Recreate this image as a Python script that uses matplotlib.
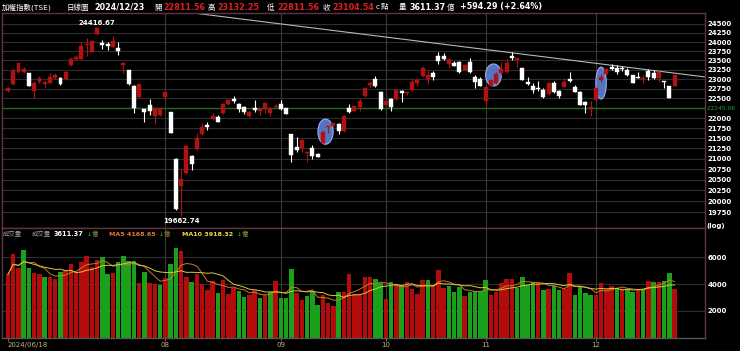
import numpy as np
import pandas as pd
import matplotlib
matplotlib.use("Agg")
import matplotlib.pyplot as plt
from matplotlib.patches import Ellipse
from matplotlib.ticker import FixedLocator, NullLocator, FixedFormatter

plt.rcParams['font.family'] = ['DejaVu Sans', 'Noto Sans CJK TC']

# ---- data (TAIEX daily, 2024/06/18 - 2024/12/23) ----
opens = [22692, 22866, 23200, 23183, 23157, 22692, 22927, 22874, 22910, 23024,
         23032, 22998, 23367, 23529, 23529, 23909, 23736, 24210, 23982, 23945,
         23872, 23845, 23376, 23244, 22830, 22530, 22221, 22331, 22055, 22080,
         22530, 22154, 20999, 20357, 20652, 21065, 21227, 21602, 21826, 21968,
         22018, 22120, 22348, 22484, 22348, 22272, 22040, 22254, 22187, 22246,
         22120, 22272, 22356, 22246, 21595, 21275, 21251, 21129, 21267, 21105,
         21374, 21768, 21801, 21843, 21684, 22263, 22187, 22272, 22562, 22840,
         22998, 22675, 22331, 22484, 22484, 22700, 22632, 22718, 22910, 23094,
         22998, 23157, 23616, 23616, 23393, 23437, 23466, 23244, 23466, 23050,
         23006, 22441, 22830, 22893, 23157, 23183, 23616, 23511, 23288, 22919,
         22830, 22778, 22718, 22614, 22893, 22692, 22805, 23006, 22805, 22675,
         22415, 22221, 22459, 22979, 23129, 23332, 23305, 23305, 23244, 23112,
         23068, 22998, 23226, 23174, 23024, 22961, 22822, 22811.56]
highs = [22805, 23290, 23437, 23332, 23165, 22936, 23086, 22953, 23157, 23174,
         23050, 23218, 23582, 23643, 24010, 24101, 24056, 24416.67, 24056, 24001,
         24175, 23993, 23466, 23250, 22835, 22880, 22225, 22484, 22289, 22270,
         22675, 22160, 21005, 20754, 21332, 21090, 21620, 21884, 21909, 22118,
         22080, 22390, 22484, 22562, 22373, 22310, 22180, 22459, 22221, 22390,
         22270, 22356, 22459, 22254, 21600, 21520, 21470, 21169, 21332, 21145,
         21701, 21801, 21884, 21868, 22080, 22356, 22314, 22476, 22770, 22961,
         23094, 22692, 22441, 22500, 22744, 22718, 22670, 23024, 23024, 23358,
         23244, 23226, 23719, 23690, 23529, 23493, 23493, 23400, 23555, 23112,
         23068, 22805, 22900, 23190, 23466, 23529, 23719, 23555, 23288, 23050,
         22910, 22953, 22761, 22927, 22953, 22718, 23024, 23200, 22848, 22680,
         22441, 22441, 22770, 23139, 23288, 23393, 23367, 23349, 23305, 23120,
         23183, 23112, 23262, 23244, 23218, 22961, 22830, 23132.25]
lows = [22675, 22848, 23174, 23157, 22810, 22518, 22893, 22778, 22893, 23006,
        22840, 22988, 23349, 23511, 23511, 23627, 23719, 24180, 23800, 23782,
        23854, 23655, 23157, 22860, 22137, 22520, 21900, 22080, 21858, 22040,
        22459, 21630, 19803, 19662.74, 20636, 20730, 21210, 21580, 21701, 21950,
        21895, 22100, 22330, 22390, 22160, 22105, 22030, 22162, 22080, 22120,
        22040, 22246, 22204, 22097, 20929, 21169, 21154, 20929, 20985, 21030,
        21355, 21636, 21768, 21602, 21660, 22137, 22180, 22187, 22545, 22761,
        22805, 22215, 22314, 22187, 22459, 22420, 22580, 22700, 22830, 23068,
        22874, 22979, 23400, 23511, 23288, 23358, 23157, 23244, 23157, 22761,
        22822, 22272, 22822, 22866, 23112, 23157, 23511, 23332, 22979, 22850,
        22632, 22692, 22502, 22597, 22632, 22502, 22787, 22936, 22658, 22331,
        22137, 22055, 22459, 22936, 23112, 23244, 23139, 23226, 23086, 22893,
        23024, 22910, 22979, 23006, 22936, 22778, 22510, 22811.56]
closes = [22770, 23226, 23420, 23270, 22822, 22910, 23032, 22927, 23050, 23104,
          22883, 23191, 23537, 23582, 23890, 23945, 24037, 24390, 23927, 23900,
          24028, 23755, 23437, 22866, 22262, 22874, 22154, 22187, 22247, 22237,
          22666, 21635, 19830, 20508, 21307, 20874, 21496, 21768, 21784, 22050,
          21909, 22356, 22459, 22441, 22237, 22154, 22160, 22204, 22221, 22373,
          22246, 22314, 22221, 22105, 21089, 21210, 21454, 21169, 21065, 21048,
          21660, 21801, 21868, 21684, 22055, 22162, 22306, 22441, 22761, 22893,
          22830, 22221, 22424, 22272, 22718, 22632, 22666, 22936, 22979, 23288,
          23112, 23068, 23493, 23537, 23529, 23358, 23183, 23384, 23183, 22936,
          22830, 22805, 22979, 23147, 23262, 23437, 23555, 23555, 22979, 22866,
          22718, 22736, 22545, 22893, 22675, 22562, 22936, 22953, 22675, 22331,
          22331, 22272, 22761, 23050, 23262, 23279, 23183, 23262, 23112, 22893,
          23024, 23041, 23050, 23024, 23200, 22936, 22510.25, 23104.54]
volumes = [4727, 6223, 5221, 6545, 5221, 4825, 4727, 4525, 4525, 4376,
           4924, 5023, 5498, 4924, 5672, 6121, 5273, 5772, 6021, 4775,
           4825, 5648, 6071, 5722, 5722, 4077, 4924, 4102, 4002, 3927,
           4427, 5473, 6720, 6500, 4550, 4176, 4727, 3977, 3553, 4226,
           3353, 4326, 3278, 3677, 3502, 3029, 3203, 3528, 2955, 3179,
           3428, 4251, 2980, 2980, 5124, 3303, 2781, 3128, 3428, 2431,
           3179, 2556, 2381, 3403, 3378, 4775, 3229, 3254, 4500, 4500,
           4376, 4102, 2880, 4151, 3927, 3902, 4176, 3628, 3229, 4301,
           4301, 3927, 5023, 3677, 3877, 3428, 3802, 3104, 3378, 3502,
           3453, 4301, 3179, 3378, 4102, 4351, 4351, 3677, 4525, 3927,
           4176, 4176, 3553, 3628, 3877, 3553, 3628, 4825, 3179, 3827,
           3353, 3179, 3179, 4052, 3628, 3852, 3703, 3653, 3553, 3403,
           3553, 3603, 4226, 4151, 4126, 4226, 4800, 3611.37]
# R = volume bar red (up day), G = green (down day)
vol_dir = ("RRRGGRRGRR" "GRRRRRRRGG" "RGGGGRGRRG" "RGGRRGRRRR" "GRRRGGRRGR"
           "GRGGGRRGGG" "RRRGRRRRRR" "GGRGRGRRRR" "GRRRGGGRGG" "GGRRRRRGGG"
           "GRGRGGRRGG" "GGRRRRGRGG" "RGRGRGGR")
ma5_last = 4168.65
ma10_last = 3918.32

month_idx = [0, 30, 52, 72, 91, 112]
month_labels = ["2024/06/18", "08", "09", "10", "11", "12"]
price_ticks = list(range(19750, 24501, 250))
vol_ticks = [2000, 4000, 6000]
ref_level = 22245.06
hi_idx, hi_val = 17, 24416.67
lo_idx, lo_val = 33, 19662.74

W, H = 740, 351
RED = '#b01212'
VRED = '#b40c0c'
VGREEN = '#1aa01a'
FRAME = '#5c3442'
GRID = '#2e2e2e'

fig = plt.figure(figsize=(W / 100, H / 100), dpi=100, facecolor='black')
ax = fig.add_axes([2 / W, 1 - 228 / H, 703 / W, 215 / H], facecolor='black')
axv = fig.add_axes([2 / W, 1 - 337.5 / H, 703 / W, 109.5 / H], facecolor='black',
                   sharex=ax)

x = np.arange(len(closes))
o = np.array(opens)
c = np.array(closes)
up = c >= o
col = np.where(up, RED, 'white')
body_lo = np.minimum(o, c)
body_h = np.maximum(np.abs(c - o), body_lo * 0.0008)

# ---- price panel ----
ax.set_yscale('log')
ax.set_ylim(19399, 24810)
ax.set_xlim(-1.14, 132.8)
for p in price_ticks:
    ax.axhline(p, color=GRID, lw=0.8, zorder=0)
for m in month_idx[1:]:
    ax.axvline(m, color='#3a3a3a', lw=0.8, zorder=0)
ax.axhline(ref_level, color='#1f6a1f', lw=1.0, zorder=1)
ax.axline((46, 24612), (130, 23108), color='#b8b8b8', lw=0.8, zorder=1)

for xc, lo, hi, w in [(60.5, 21350, 21975, 2.9), (92.5, 22822, 23405, 3.0),
                      (113, 22484, 23320, 2.0)]:
    ax.add_patch(Ellipse((xc, (lo + hi) / 2), w, hi - lo, facecolor='#5574c4',
                         edgecolor='#9ab0e8', lw=0.8, zorder=1.5))

ax.vlines(x, lows, highs, colors=col, lw=0.8, zorder=2)
ax.bar(x, body_h, bottom=body_lo, width=0.75, color=col, edgecolor=col,
       lw=0.3, zorder=3)

ax.annotate(f"{hi_val:.2f}", (hi_idx, hi_val), xytext=(0, 1),
            textcoords='offset points', ha='center', va='bottom',
            color='white', fontsize=5, fontweight='bold')
ax.annotate(f"{lo_val:.2f}", (lo_idx, lo_val), xytext=(0, -1),
            textcoords='offset points', ha='center', va='top',
            color='white', fontsize=5, fontweight='bold')

# the reference level label takes the place of the 22250 tick label
tick_text = ["" if abs(p - ref_level) < 125 else str(p) for p in price_ticks]
ax.yaxis.tick_right()
ax.yaxis.set_major_locator(FixedLocator(price_ticks))
ax.yaxis.set_minor_locator(NullLocator())
ax.yaxis.set_major_formatter(FixedFormatter(tick_text))
ax.tick_params(axis='y', which='both', length=0, pad=1.5, labelsize=5,
               labelcolor='white')
for t in ax.get_yticklabels():
    t.set_fontweight('bold')
ax.tick_params(axis='x', bottom=False, labelbottom=False)
for s in ax.spines.values():
    s.set_color(FRAME)
    s.set_linewidth(1.0)
ax.text(1.0, ref_level, f" {ref_level:.2f}", transform=ax.get_yaxis_transform(),
        color='#2aa02a', fontsize=4.2, va='center', ha='left')
fig.text(706 / W, 1 - 226 / H, "(log)", color='white', fontsize=5,
         fontweight='bold', va='center', ha='left')

# ---- volume panel ----
vcol = [VRED if d == 'R' else VGREEN for d in vol_dir]
vol = pd.Series(volumes)
ma5 = vol.rolling(5, min_periods=1).mean()
ma10 = vol.rolling(10, min_periods=1).mean()
axv.set_ylim(0, 8190)
for v in vol_ticks:
    axv.axhline(v, color=GRID, lw=0.8, zorder=0)
for m in month_idx[1:]:
    axv.axvline(m, color='#3a3a3a', lw=0.8, zorder=0)
axv.bar(x, volumes, width=0.86, color=vcol, lw=0, zorder=2)
axv.plot(x, ma5, color='#c87a2a', lw=0.7, zorder=3)
axv.plot(x, ma10, color='#d8c83a', lw=0.7, zorder=3)

axv.yaxis.tick_right()
axv.set_yticks(vol_ticks)
axv.set_yticklabels([str(v) for v in vol_ticks])
axv.tick_params(axis='y', length=0, pad=2, labelsize=5, labelcolor='white')
for t in axv.get_yticklabels():
    t.set_fontweight('bold')
axv.set_xticks(month_idx)
axv.set_xticklabels(month_labels)
axv.tick_params(axis='x', length=2, width=0.6, color='#777777', pad=1,
                labelsize=5, labelcolor='#c8b27a')
axv.get_xticklabels()[0].set_ha('left')
for s in axv.spines.values():
    s.set_color(FRAME)
    s.set_linewidth(1.0)
axv.spines['bottom'].set_color('#555555')


def ftext(xp, yp, s, **kw):
    kw.setdefault('fontsize', 5.6)
    kw.setdefault('color', 'white')
    fig.text(xp / W, 1 - yp / H, s, va='center', ha='left', **kw)


# header line
ftext(2, 7, "加權指數(TSE)", fontsize=5.4)
ftext(67, 7, "日線圖", fontsize=5.4)
ftext(94, 7, "2024/12/23", fontweight='bold', fontsize=5.8)
hdr = [(154, "開", 163, "22811.56"), (208, "高", 217, "23132.25"),
       (267, "低", 277, "22811.56"), (323, "收", 332, "23104.54")]
for lx, lab, vx, val in hdr:
    ftext(lx, 7, lab, fontsize=5.4)
    ftext(vx, 7, val, color='#e02020', fontweight='bold', fontsize=5.8)
ftext(376, 7, "c", fontsize=5)
ftext(381, 7, "點", fontsize=5.4)
ftext(399, 7, "量", fontsize=5.4)
ftext(409, 7, "3611.37", fontweight='bold', fontsize=5.8)
ftext(447, 7, "億", fontsize=5.4)
ftext(460, 7, "+594.29 (+2.64%)", fontweight='bold', fontsize=5.8)

# volume legend
ftext(3, 234, "成交量", color='#9a9a9a', fontsize=4.6)
ftext(32, 234, "成交量", color='#9a9a9a', fontsize=4.6)
ftext(54, 234, f"{volumes[-1]:.2f}", fontweight='bold', fontsize=4.7)
ftext(87, 234, "↓", color='#22c022', fontsize=4.6)
ftext(92, 234, "億", color='#8a9a5a', fontsize=4.5)
ftext(109, 234, f"MA5 {ma5_last:.2f}", color='#e0782e', fontweight='bold',
      fontsize=4.6)
ftext(159, 234, "↓", color='#22c022', fontsize=4.6)
ftext(164, 234, "億", color='#b07a3a', fontsize=4.5)
ftext(182, 234, f"MA10 {ma10_last:.2f}", color='#e8e040', fontweight='bold',
      fontsize=4.6)
ftext(237, 234, "↓", color='#22c022', fontsize=4.6)
ftext(242, 234, "億", color='#a0a040', fontsize=4.5)

fig.savefig("out.png", dpi=100, facecolor='black')
